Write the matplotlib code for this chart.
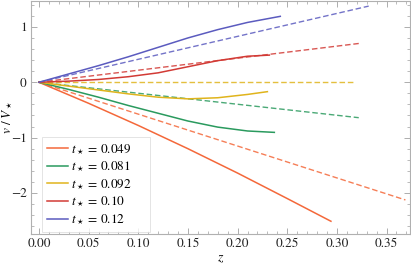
import matplotlib
matplotlib.use("Agg")
import matplotlib.pyplot as plt
from matplotlib.ticker import MultipleLocator

plt.rcParams["font.family"] = "STIXGeneral"
plt.rcParams["mathtext.fontset"] = "stix"

# t_star values and colours
labels = ["0.049", "0.081", "0.092", "0.10", "0.12"]
colors = ["#F4683A", "#2A9A5E", "#E0B41C", "#D23A35", "#5B5BBF"]

# solid curves (z, v/V*)
solid_z = [
    [0, 0.05, 0.10, 0.15, 0.20, 0.25, 0.294],
    [0, 0.03, 0.06, 0.09, 0.12, 0.15, 0.18, 0.21, 0.237],
    [0, 0.03, 0.06, 0.09, 0.12, 0.15, 0.18, 0.21, 0.23],
    [0, 0.03, 0.06, 0.09, 0.12, 0.15, 0.18, 0.21, 0.232],
    [0, 0.03, 0.06, 0.09, 0.12, 0.15, 0.18, 0.21, 0.243],
]
solid_v = [
    [0, -0.38, -0.78, -1.20, -1.64, -2.10, -2.51],
    [0, -0.13, -0.27, -0.42, -0.56, -0.70, -0.81, -0.88, -0.905],
    [0, -0.07, -0.14, -0.21, -0.27, -0.30, -0.28, -0.22, -0.17],
    [0, 0.02, 0.05, 0.10, 0.17, 0.28, 0.39, 0.47, 0.49],
    [0, 0.15, 0.30, 0.46, 0.63, 0.80, 0.95, 1.08, 1.19],
]
# dashed straight lines
dash_z = [[0, 0.369], [0, 0.322], [0, 0.318], [0, 0.322], [0, 0.332]]
dash_v = [[0, -2.125], [0, -0.64], [0, 0.0], [0, 0.70], [0, 1.375]]

fig = plt.figure(figsize=(4.11, 2.65), dpi=100)
ax = fig.add_axes([31 / 411, 31 / 265, 379 / 411, 233 / 265])

for c, zz, vv in zip(colors, dash_z, dash_v):
    ax.plot(zz, vv, color=c, lw=1.0, alpha=0.85, ls=(0, (4, 2)))
for c, lab, zz, vv in zip(colors, labels, solid_z, solid_v):
    ax.plot(zz, vv, color=c, lw=1.1, label=r"$t_\star$ = " + lab)

ax.set_xlim(-0.008, 0.3736)
ax.set_ylim(-2.74, 1.467)
ax.xaxis.set_major_locator(MultipleLocator(0.05))
ax.xaxis.set_minor_locator(MultipleLocator(0.01))
ax.yaxis.set_major_locator(MultipleLocator(1))
ax.yaxis.set_minor_locator(MultipleLocator(0.2))
ax.xaxis.set_major_formatter(lambda x, p: f"{x:.2f}")
ax.yaxis.set_major_formatter(lambda y, p: f"{y:.0f}".replace("-", "\u2212"))

for s in ax.spines.values():
    s.set_color("#b0b0b0")
    s.set_linewidth(0.8)
ax.tick_params(which="both", direction="in", top=True, right=True,
               color="#a0a0a0", labelsize=9.5, labelcolor="#222222", pad=3)
ax.tick_params(which="major", length=4, width=0.6)
ax.tick_params(which="minor", length=2, width=0.5)

ax.set_xlabel(r"$z$", fontsize=10)
ax.set_ylabel(r"$v\ /\ V_\star$", fontsize=9.5)
ax.xaxis.set_label_coords(0.5, -0.075)
ax.yaxis.set_label_coords(-0.041, 0.5)

leg = ax.legend(loc="upper left",
                bbox_to_anchor=(42 / 411, 1 - 222 / 265, 108 / 411, 85 / 265),
                bbox_transform=fig.transFigure, mode="expand", fontsize=9.5,
                frameon=True, fancybox=False, handlelength=1.6,
                handletextpad=0.2, labelspacing=0.25, borderpad=0.4,
                borderaxespad=0)
leg.get_frame().set_edgecolor("#d8d8d8")
leg.get_frame().set_linewidth(0.6)

fig.savefig("out.png", dpi=100)
